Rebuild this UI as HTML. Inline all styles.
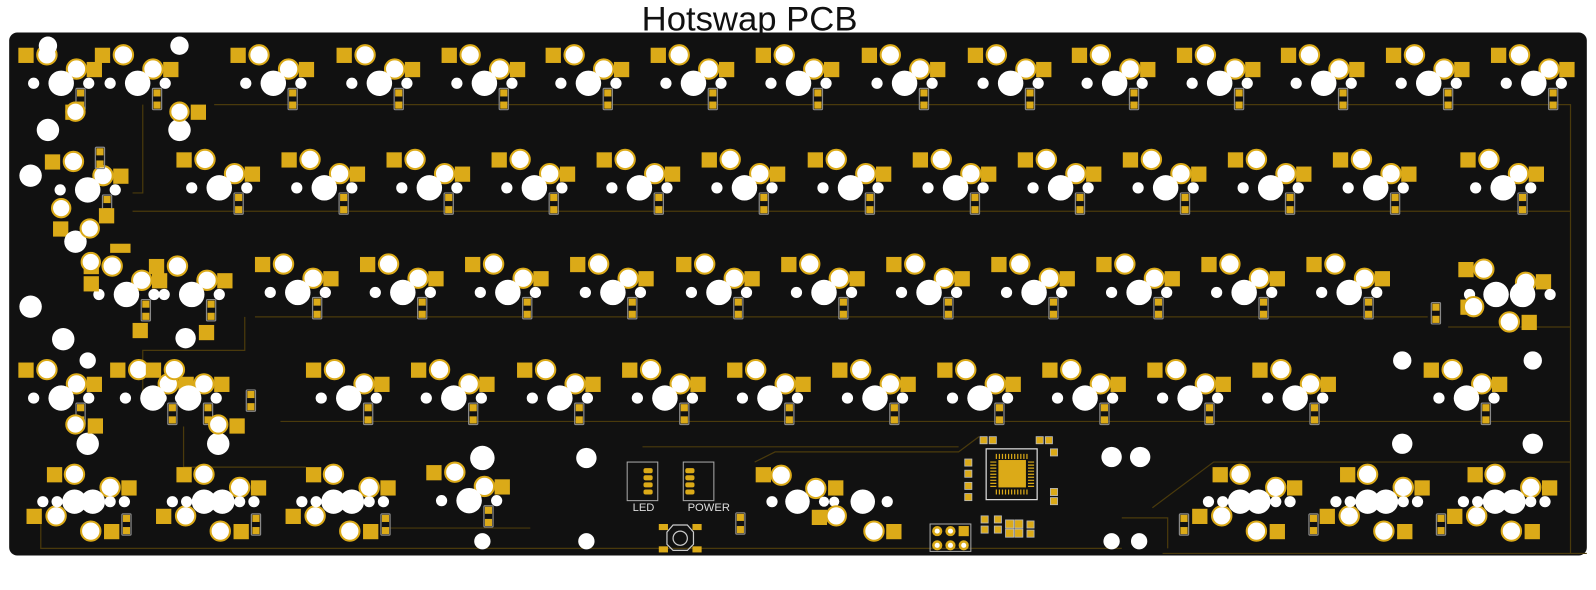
<!DOCTYPE html>
<html><head><meta charset="utf-8"><style>
html,body{margin:0;padding:0;background:#fff;width:1596px;height:590px;overflow:hidden}
svg{display:block}
</style></head><body>
<svg width="1596" height="590" viewBox="0 0 1565 581" preserveAspectRatio="none" xmlns="http://www.w3.org/2000/svg">
<defs>
<g id="sw">
 <rect x="-42" y="-35" width="15" height="15" fill="#dbaa18"/>
 <circle cx="-14" cy="-28" r="9.5" fill="#fff" stroke="#dbaa18" stroke-width="2"/>
 <circle cx="15" cy="-14" r="9.5" fill="#fff" stroke="#dbaa18" stroke-width="2"/>
 <rect x="25" y="-21" width="15" height="15" fill="#dbaa18"/>
 <circle cx="0" cy="0" r="12.5" fill="#fff"/>
 <circle cx="-27" cy="0" r="5.5" fill="#fff"/>
 <circle cx="27" cy="0" r="5.5" fill="#fff"/>
 <rect x="14.5" y="5" width="9" height="21" rx="1" fill="none" stroke="#888" stroke-width="1.2"/>
 <rect x="15.5" y="6" width="7" height="7" fill="#dbaa18"/>
 <rect x="15.5" y="18" width="7" height="7" fill="#dbaa18"/>
</g>
<g id="sbcore">
 <rect x="-36" y="-34" width="15" height="15" fill="#dbaa18"/>
 <circle cx="-9" cy="-27" r="9.5" fill="#fff" stroke="#dbaa18" stroke-width="2"/>
 <circle cx="26" cy="-14" r="9.5" fill="#fff" stroke="#dbaa18" stroke-width="2"/>
 <rect x="37" y="-21" width="15" height="15" fill="#dbaa18"/>
 <rect x="-56" y="7" width="15" height="15" fill="#dbaa18"/>
 <circle cx="-27" cy="14" r="9.5" fill="#fff" stroke="#dbaa18" stroke-width="2"/>
 <circle cx="7" cy="29" r="9.5" fill="#fff" stroke="#dbaa18" stroke-width="2"/>
 <rect x="20" y="22" width="15" height="15" fill="#dbaa18"/>
 <circle cx="-9" cy="0" r="12" fill="#fff"/>
 <circle cx="9" cy="0" r="12" fill="#fff"/>
 <circle cx="-26" cy="0" r="5.5" fill="#fff"/>
 <circle cx="26" cy="0" r="5.5" fill="#fff"/>
 <circle cx="-40" cy="0" r="5.5" fill="#fff"/>
 <circle cx="40" cy="0" r="5.5" fill="#fff"/>
</g>
<g id="dio">
 <rect x="-4.5" y="-1" width="9" height="21" rx="1" fill="none" stroke="#888" stroke-width="1.2"/>
 <rect x="-3.5" y="0" width="7" height="7" fill="#dbaa18"/>
 <rect x="-3.5" y="12" width="7" height="7" fill="#dbaa18"/>
</g>
</defs>
<text x="735" y="30" font-family="Liberation Sans, sans-serif" font-size="34" text-anchor="middle" fill="#111">Hotswap PCB</text>
<rect x="9" y="32" width="1547" height="515" rx="8" fill="#111"/>
<g stroke="#4a3a0c" stroke-width="1.2" fill="none">
 <path d="M210 103 H1540 V545"/>
 <path d="M130 208 H1540"/>
 <path d="M250 312 H1400 M1420 322 H1540"/>
 <path d="M275 415 H1540"/>
 <path d="M380 520 H520"/>
 <path d="M140 103 V190 H130"/>
 <path d="M240 312 V345 H140 V395"/>
 <path d="M630 440 H940 M740 455 L760 445 H940 L960 430 M1130 500 L1190 455 H1540"/>
 <path d="M1140 545 H1556 M1145 540 V510 L1100 510"/>
 <path d="M40 500 V540 H1100"/>
 <path d="M180 420 V460 H300"/>
</g>
<!-- row 1 -->
<use href="#sw" x="268" y="82"/><use href="#sw" x="372" y="82"/><use href="#sw" x="475" y="82"/><use href="#sw" x="577" y="82"/><use href="#sw" x="680" y="82"/><use href="#sw" x="783" y="82"/><use href="#sw" x="887" y="82"/><use href="#sw" x="991" y="82"/><use href="#sw" x="1093" y="82"/><use href="#sw" x="1196" y="82"/><use href="#sw" x="1298" y="82"/><use href="#sw" x="1401" y="82"/><use href="#sw" x="1504" y="82"/>
<!-- row 2 -->
<use href="#sw" x="215" y="185"/><use href="#sw" x="318" y="185"/><use href="#sw" x="421" y="185"/><use href="#sw" x="524" y="185"/><use href="#sw" x="627" y="185"/><use href="#sw" x="730" y="185"/><use href="#sw" x="834" y="185"/><use href="#sw" x="937" y="185"/><use href="#sw" x="1040" y="185"/><use href="#sw" x="1143" y="185"/><use href="#sw" x="1246" y="185"/><use href="#sw" x="1349" y="185"/><use href="#sw" x="1474" y="185"/>
<!-- row 3 -->
<use href="#sw" x="292" y="288"/><use href="#sw" x="395" y="288"/><use href="#sw" x="498" y="288"/><use href="#sw" x="601" y="288"/><use href="#sw" x="705" y="288"/><use href="#sw" x="808" y="288"/><use href="#sw" x="911" y="288"/><use href="#sw" x="1014" y="288"/><use href="#sw" x="1117" y="288"/><use href="#sw" x="1220" y="288"/><use href="#sw" x="1323" y="288"/>
<!-- enter -->
<g>
 <rect x="1430" y="258" width="15" height="15" fill="#dbaa18"/><circle cx="1455" cy="265" r="9.5" fill="#fff" stroke="#dbaa18" stroke-width="2"/>
 <circle cx="1496" cy="278" r="9.5" fill="#fff" stroke="#dbaa18" stroke-width="2"/><rect x="1506" y="270" width="15" height="15" fill="#dbaa18"/>
 <circle cx="1467" cy="290" r="12.5" fill="#fff"/><circle cx="1493" cy="290" r="12.5" fill="#fff"/><circle cx="1441" cy="290" r="5.5" fill="#fff"/><circle cx="1520" cy="290" r="5.5" fill="#fff"/>
 <rect x="1432" y="295" width="15" height="15" fill="#dbaa18"/><circle cx="1445" cy="302" r="9.5" fill="#fff" stroke="#dbaa18" stroke-width="2"/>
 <circle cx="1480" cy="317" r="9.5" fill="#fff" stroke="#dbaa18" stroke-width="2"/><rect x="1492" y="310" width="15" height="15" fill="#dbaa18"/>
 <use href="#dio" x="1408" y="299"/>
</g>
<!-- row 4 -->
<use href="#sw" x="342" y="392"/><use href="#sw" x="445" y="392"/><use href="#sw" x="549" y="392"/><use href="#sw" x="652" y="392"/><use href="#sw" x="755" y="392"/><use href="#sw" x="858" y="392"/><use href="#sw" x="961" y="392"/><use href="#sw" x="1064" y="392"/><use href="#sw" x="1167" y="392"/><use href="#sw" x="1270" y="392"/><use href="#sw" x="1438" y="392"/>
<circle cx="1375" cy="355" r="9" fill="#fff"/><circle cx="1503" cy="355" r="9" fill="#fff"/><circle cx="1375" cy="437" r="10" fill="#fff"/><circle cx="1503" cy="437" r="10" fill="#fff"/>
<!-- bottom row -->
<use href="#sbcore" x="82" y="494"/><use href="#dio" x="124" y="507"/>
<use href="#sbcore" x="209" y="494"/><use href="#dio" x="251" y="507"/>
<use href="#sbcore" x="336" y="494"/><use href="#dio" x="378" y="507"/>
<use href="#sbcore" x="1225" y="494"/><use href="#dio" x="1161" y="507"/>
<use href="#sbcore" x="1350" y="494"/><use href="#dio" x="1288" y="507"/>
<use href="#sbcore" x="1475" y="494"/><use href="#dio" x="1413" y="507"/>
<!-- spacebar center -->
<g>
 <rect x="741" y="460" width="15" height="15" fill="#dbaa18"/><circle cx="766" cy="468" r="9.5" fill="#fff" stroke="#dbaa18" stroke-width="2"/>
 <circle cx="800" cy="481" r="9.5" fill="#fff" stroke="#dbaa18" stroke-width="2"/><rect x="812" y="473" width="15" height="15" fill="#dbaa18"/>
 <circle cx="782" cy="494" r="12" fill="#fff"/><circle cx="846" cy="494" r="12" fill="#fff"/><circle cx="757" cy="494" r="5.5" fill="#fff"/><circle cx="870" cy="494" r="5.5" fill="#fff"/><circle cx="808" cy="494" r="5" fill="#fff"/><circle cx="818" cy="494" r="5" fill="#fff"/>
 <rect x="796" y="502" width="15" height="15" fill="#dbaa18"/><circle cx="820" cy="508" r="9.5" fill="#fff" stroke="#dbaa18" stroke-width="2"/>
 <circle cx="857" cy="523" r="9.5" fill="#fff" stroke="#dbaa18" stroke-width="2"/><rect x="869" y="516" width="15" height="15" fill="#dbaa18"/>
 <use href="#dio" x="726" y="506"/>
</g>
<circle cx="473" cy="451" r="12" fill="#fff"/><circle cx="473" cy="533" r="8" fill="#fff"/><circle cx="575" cy="451" r="10" fill="#fff"/><circle cx="575" cy="533" r="8" fill="#fff"/>
<use href="#sw" x="460" y="493"/>
<circle cx="1090" cy="450" r="10" fill="#fff"/><circle cx="1118" cy="450" r="10" fill="#fff"/><circle cx="1090" cy="533" r="8" fill="#fff"/><circle cx="1117" cy="533" r="8" fill="#fff"/>
<!-- left cluster -->
<use href="#sw" x="60" y="82"/><use href="#sw" x="135" y="82"/>
<circle cx="47" cy="45" r="9" fill="#fff"/><circle cx="176" cy="45" r="9" fill="#fff"/><circle cx="47" cy="128" r="11" fill="#fff"/><circle cx="176" cy="128" r="11" fill="#fff"/>
<rect x="64" y="103" width="15" height="15" fill="#dbaa18"/><circle cx="74" cy="110" r="9" fill="#fff" stroke="#dbaa18" stroke-width="2"/>
<circle cx="176" cy="110" r="9" fill="#fff" stroke="#dbaa18" stroke-width="2"/><rect x="187" y="103" width="15" height="15" fill="#dbaa18"/>
<use href="#sw" x="86" y="187"/><circle cx="30" cy="173" r="11" fill="#fff"/>
<use href="#dio" x="98" y="146"/>
<circle cx="60" cy="205" r="9" fill="#fff" stroke="#dbaa18" stroke-width="2"/><rect x="52" y="218" width="15" height="15" fill="#dbaa18"/><circle cx="74" cy="238" r="11" fill="#fff"/>
<circle cx="88" cy="225" r="9" fill="#fff" stroke="#dbaa18" stroke-width="2"/><rect x="97" y="205" width="15" height="15" fill="#dbaa18"/>
<use href="#sw" x="124" y="290"/><use href="#sw" x="188" y="290"/>
<circle cx="30" cy="302" r="11" fill="#fff"/><circle cx="62" cy="334" r="11" fill="#fff"/><circle cx="182" cy="333" r="10" fill="#fff"/>
<rect x="108" y="240" width="20" height="9" fill="#dbaa18"/>
<circle cx="89" cy="258" r="9" fill="#fff" stroke="#dbaa18" stroke-width="2"/><rect x="82" y="272" width="15" height="15" fill="#dbaa18"/>
<rect x="130" y="318" width="15" height="15" fill="#dbaa18"/><rect x="195" y="320" width="15" height="15" fill="#dbaa18"/>
<use href="#sw" x="60" y="392"/><use href="#sw" x="150" y="392"/><use href="#sw" x="185" y="392"/>
<circle cx="86" cy="355" r="8" fill="#fff"/><circle cx="86" cy="437" r="11" fill="#fff"/><circle cx="214" cy="437" r="11" fill="#fff"/>
<rect x="86" y="412" width="15" height="15" fill="#dbaa18"/><circle cx="74" cy="418" r="9" fill="#fff" stroke="#dbaa18" stroke-width="2"/>
<circle cx="214" cy="418" r="9" fill="#fff" stroke="#dbaa18" stroke-width="2"/><rect x="225" y="412" width="15" height="15" fill="#dbaa18"/>
<use href="#dio" x="246" y="385"/>
<!-- LED / POWER -->
<g fill="none" stroke="#aaa" stroke-width="1">
 <rect x="615" y="455" width="30" height="38"/><rect x="670" y="455" width="30" height="38"/>
</g>
<g fill="#dbaa18">
 <rect x="631" y="461" width="9" height="5" rx="2"/><rect x="631" y="468" width="9" height="5" rx="2"/><rect x="631" y="475" width="9" height="5" rx="2"/><rect x="631" y="482" width="9" height="5" rx="2"/>
 <rect x="672" y="461" width="9" height="5" rx="2"/><rect x="672" y="468" width="9" height="5" rx="2"/><rect x="672" y="475" width="9" height="5" rx="2"/><rect x="672" y="482" width="9" height="5" rx="2"/>
</g>
<text x="631" y="503" font-family="Liberation Sans, sans-serif" font-size="11" fill="#ddd" text-anchor="middle">LED</text>
<text x="695" y="503" font-family="Liberation Sans, sans-serif" font-size="11" fill="#ddd" text-anchor="middle">POWER</text>
<rect x="646" y="516" width="9" height="6" fill="#dbaa18"/><rect x="679" y="516" width="9" height="6" fill="#dbaa18"/><rect x="646" y="538" width="9" height="6" fill="#dbaa18"/><rect x="679" y="538" width="9" height="6" fill="#dbaa18"/>
<polygon points="660,517 674,517 680,524 680,536 674,542 660,542 654,536 654,524" fill="none" stroke="#ccc" stroke-width="1.2"/>
<circle cx="667" cy="530" r="7" fill="none" stroke="#ccc" stroke-width="1.2"/>
<!-- header -->
<rect x="912" y="516" width="40" height="27" fill="none" stroke="#aaa"/>
<g fill="#dbaa18"><circle cx="919" cy="523" r="5"/><circle cx="932" cy="523" r="5"/><rect x="940" y="518" width="10" height="10"/><circle cx="919" cy="537" r="5"/><circle cx="932" cy="537" r="5"/><circle cx="945" cy="537" r="5"/></g>
<g fill="#fff"><circle cx="919" cy="523" r="2.5"/><circle cx="932" cy="523" r="2.5"/><circle cx="919" cy="537" r="2.5"/><circle cx="932" cy="537" r="2.5"/><circle cx="945" cy="537" r="2.5"/></g>
<!-- MCU -->
<rect x="967" y="442" width="50" height="50" fill="none" stroke="#ddd" stroke-width="1.2"/>
<rect x="979" y="453" width="27" height="27" fill="#dbaa18"/>
<g stroke="#dbaa18" stroke-width="1.2">
 <path d="M977 447 V452 M980 447 V452 M983 447 V452 M986 447 V452 M989 447 V452 M992 447 V452 M995 447 V452 M998 447 V452 M1001 447 V452 M1004 447 V452 M1007 447 V452"/>
 <path d="M977 482 V487 M980 482 V487 M983 482 V487 M986 482 V487 M989 482 V487 M992 482 V487 M995 482 V487 M998 482 V487 M1001 482 V487 M1004 482 V487 M1007 482 V487"/>
 <path d="M971 455 H977 M971 458 H977 M971 461 H977 M971 464 H977 M971 467 H977 M971 470 H977 M971 473 H977 M971 476 H977 M971 479 H977"/>
 <path d="M1008 455 H1014 M1008 458 H1014 M1008 461 H1014 M1008 464 H1014 M1008 467 H1014 M1008 470 H1014 M1008 473 H1014 M1008 476 H1014 M1008 479 H1014"/>
</g>
<g fill="#dbaa18" stroke="#bbb" stroke-width="0.8">
 <rect x="961" y="430" width="7" height="7"/><rect x="970" y="430" width="7" height="7"/>
 <rect x="1016" y="430" width="7" height="7"/><rect x="1025" y="430" width="7" height="7"/>
 <rect x="946" y="452" width="7" height="7"/><rect x="946" y="463" width="7" height="7"/>
 <rect x="946" y="475" width="7" height="7"/><rect x="946" y="486" width="7" height="7"/>
 <rect x="1030" y="442" width="7" height="7"/><rect x="1030" y="481" width="7" height="7"/><rect x="1030" y="490" width="7" height="7"/>
 <rect x="975" y="508" width="7" height="7"/><rect x="975" y="518" width="7" height="7"/>
 <rect x="986" y="512" width="8" height="8"/><rect x="995" y="512" width="8" height="8"/><rect x="986" y="521" width="8" height="8"/><rect x="995" y="521" width="8" height="8"/>
 <rect x="1007" y="513" width="7" height="7"/><rect x="1007" y="522" width="7" height="7"/>
 <rect x="962" y="508" width="7" height="7"/><rect x="962" y="518" width="7" height="7"/>
</g>
</svg>
</body></html>
